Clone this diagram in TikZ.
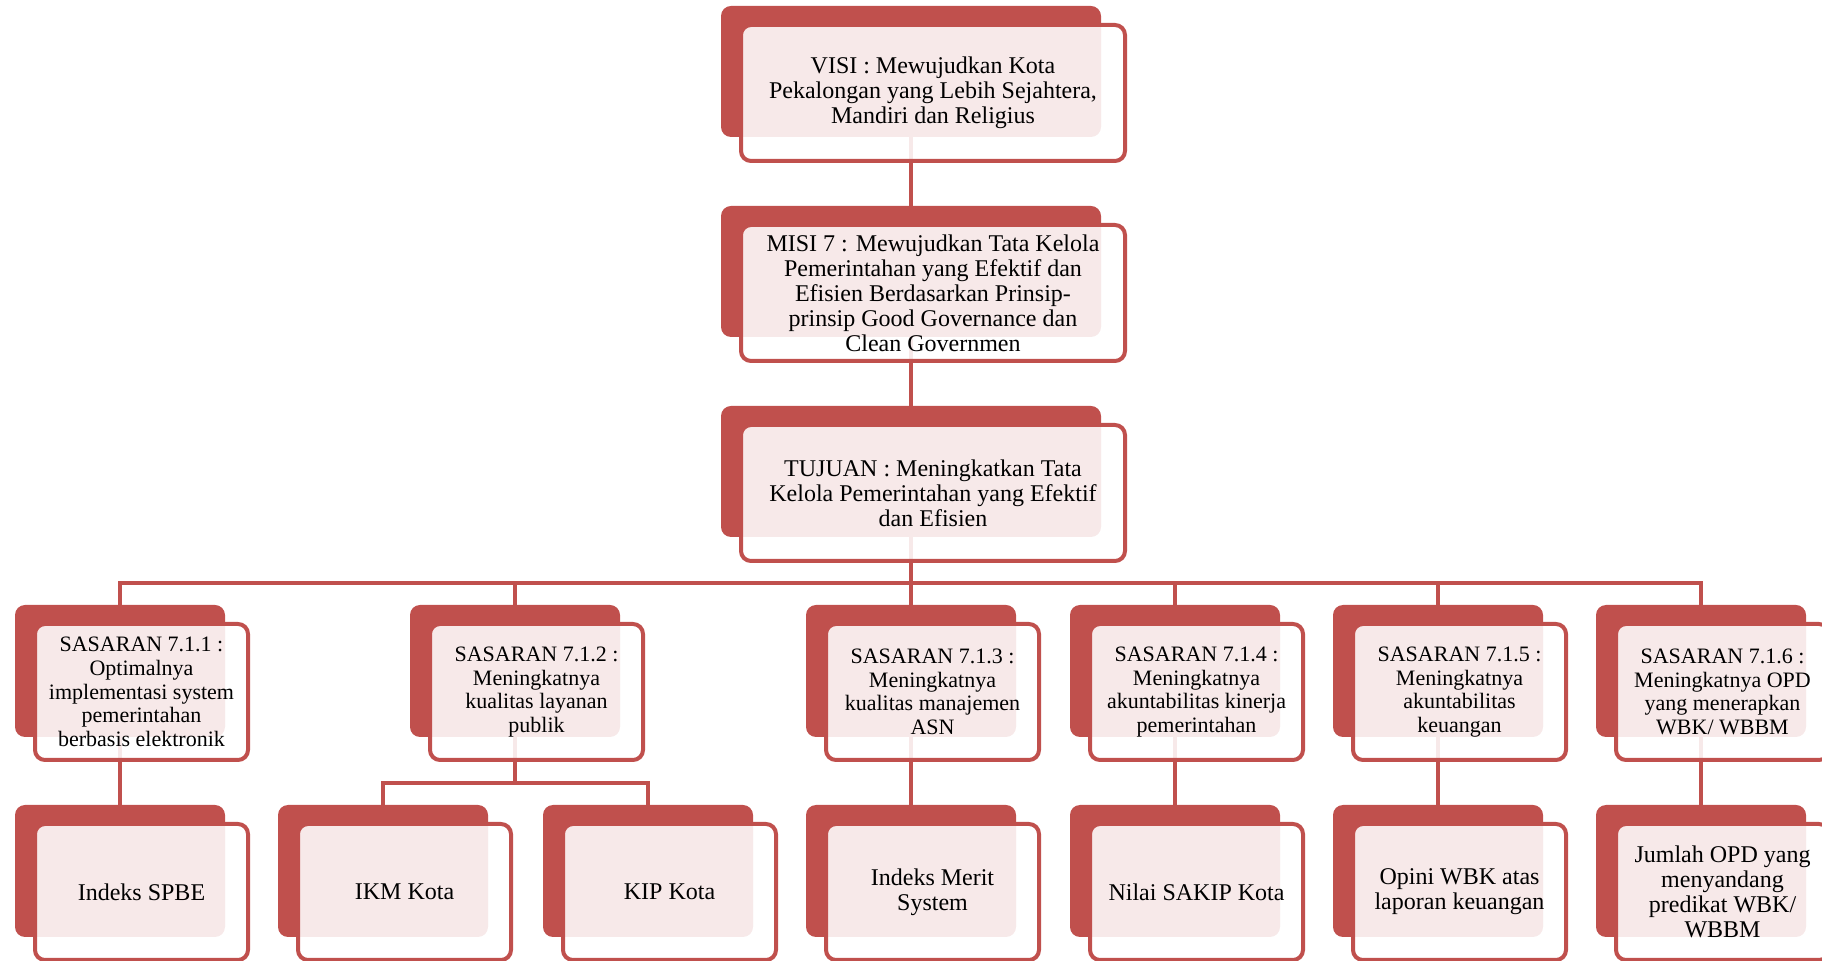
\documentclass[tikz,border=0pt]{standalone}
\usepackage{fontspec}
\setmainfont{Liberation Serif}
\usetikzlibrary{calc,positioning}
\definecolor{boxred}{HTML}{C0504D}
\tikzset{
  backbox/.style={fill=boxred, rounded corners=5pt, inner sep=0pt, outer sep=0pt},
  bigback/.style={backbox, minimum width=190pt, minimum height=65.5pt},
  smallback/.style={backbox, minimum width=105pt, minimum height=66pt},
  frontbox/.style={draw=boxred, line width=2pt, fill=white, fill opacity=.88, text opacity=1,
    rounded corners=5pt, align=center, inner sep=0pt, outer sep=0pt},
  bigfront/.style={frontbox, minimum width=192pt, minimum height=68pt, font=\fontsize{12}{12.5}\selectfont},
  smallfront/.style={frontbox, minimum width=106.5pt, minimum height=68pt, font=\fontsize{11}{11.8}\selectfont},
  leaffront/.style={frontbox, minimum width=106.5pt, minimum height=68pt, font=\fontsize{12}{12.5}\selectfont},
  link/.style={draw=boxred, line width=2.4pt},
}
\begin{document}
\begin{tikzpicture}[x=.5pt,y=-.5pt]
  \useasboundingbox (0,0) rectangle (1822,961);
  % back plates
  \foreach \n/\y in {visi/71.5,misi/271.5,tujuan/471.5}
    \node[bigback] (\n) at (911,\y) {};
  \foreach \n/\x in {sA/120,sB/515,sC/911,sD/1175,sE/1438,sF/1701}
    \node[smallback] (\n) at (\x,671) {};
  \foreach \n/\x in {spbe/120,ikm/383,kip/648,merit/911,sakip/1175,opini/1438,opd/1701}
    \node[smallback] (\n) at (\x,871) {};
  % connectors
  \draw[link] (visi.south) -- (misi.north);
  \draw[link] (misi.south) -- (tujuan.north);
  \foreach \n in {sA,sB,sC,sD,sE,sF}
    \draw[link] (tujuan.south) -- ++(0,46) -| (\n.north);
  \draw[link] (sA.south) -- (spbe.north);
  \draw[link] (sB.south) -- ++(0,46) -| (ikm.north);
  \draw[link] (sB.south) -- ++(0,46) -| (kip.north);
  \draw[link] (sC.south) -- (merit.north);
  \draw[link] (sD.south) -- (sakip.north);
  \draw[link] (sE.south) -- (opini.north);
  \draw[link] (sF.south) -- (opd.north);
  % front plates, top
  \node[bigfront, below right=9.5pt and 10pt of visi.north west] (visi-t)
    {VISI : Mewujudkan Kota\\Pekalongan yang Lebih Sejahtera,\\Mandiri dan Religius};
  \node[bigfront, below right=9.5pt and 10pt of misi.north west] (misi-t)
    {MISI 7 : Mewujudkan Tata Kelola\\Pemerintahan yang Efektif dan\\Efisien Berdasarkan Prinsip-\\prinsip Good Governance dan\\Clean Governmen};
  \node[bigfront, below right=9.5pt and 10pt of tujuan.north west] (tujuan-t)
    {TUJUAN : Meningkatkan Tata\\Kelola Pemerintahan yang Efektif\\dan Efisien};
  % front plates, sasaran
  \node[smallfront, below right=9.5pt and 10pt of sA.north west] (sA-t)
    {SASARAN 7.1.1 :\\Optimalnya\\implementasi system\\pemerintahan\\berbasis elektronik};
  \node[smallfront, below right=9.5pt and 10pt of sB.north west] (sB-t)
    {SASARAN 7.1.2 :\\Meningkatnya\\kualitas layanan\\publik};
  \node[smallfront, below right=9.5pt and 10pt of sC.north west] (sC-t)
    {SASARAN 7.1.3 :\\Meningkatnya\\kualitas manajemen\\ASN};
  \node[smallfront, below right=9.5pt and 10pt of sD.north west] (sD-t)
    {SASARAN 7.1.4 :\\Meningkatnya\\akuntabilitas kinerja\\pemerintahan};
  \node[smallfront, below right=9.5pt and 10pt of sE.north west] (sE-t)
    {SASARAN 7.1.5 :\\Meningkatnya\\akuntabilitas\\keuangan};
  \node[smallfront, below right=9.5pt and 10pt of sF.north west] (sF-t)
    {SASARAN 7.1.6 :\\Meningkatnya OPD\\yang menerapkan\\WBK/ WBBM};
  % front plates, indikator
  \node[leaffront, below right=9.5pt and 10pt of spbe.north west] (spbe-t) {Indeks SPBE};
  \node[leaffront, below right=9.5pt and 10pt of ikm.north west] (ikm-t) {IKM Kota};
  \node[leaffront, below right=9.5pt and 10pt of kip.north west] (kip-t) {KIP Kota};
  \node[leaffront, below right=9.5pt and 10pt of merit.north west] (merit-t) {Indeks Merit\\System};
  \node[leaffront, below right=9.5pt and 10pt of sakip.north west] (sakip-t) {Nilai SAKIP Kota};
  \node[leaffront, below right=9.5pt and 10pt of opini.north west] (opini-t) {Opini WBK atas\\laporan keuangan};
  \node[leaffront, below right=9.5pt and 10pt of opd.north west] (opd-t)
    {Jumlah OPD yang\\menyandang\\predikat WBK/\\WBBM};
\end{tikzpicture}
\end{document}
